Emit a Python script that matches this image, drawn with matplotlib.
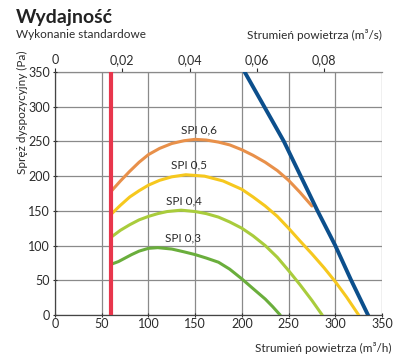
import matplotlib
matplotlib.use('Agg')
import matplotlib.pyplot as plt

plt.rcParams['font.family'] = ['Lato', 'DejaVu Sans']

# Dane (m3/h, Pa)
spi06_x = [60, 70, 80, 90, 100, 112, 125, 138, 150, 162, 175, 187, 200, 212, 225, 238, 250, 262, 275]
spi06_y = [178, 193, 207, 220, 231, 240, 247, 251, 253, 252, 249, 245, 238, 230, 220, 208, 194, 177, 157]

spi05_x = [60, 70, 80, 90, 100, 112, 125, 140, 160, 180, 200, 212, 225, 238, 250, 262, 275, 288, 300, 312, 325]
spi05_y = [145, 158, 170, 179, 187, 194, 199, 202, 200, 193, 181, 170, 157, 142, 125, 107, 88, 68, 48, 26, 0]

spi04_x = [60, 70, 80, 90, 100, 110, 120, 135, 150, 162, 175, 187, 200, 212, 225, 238, 250, 262, 275, 286]
spi04_y = [112, 122, 130, 137, 142, 146, 149, 151, 149, 146, 141, 134, 125, 114, 100, 83, 64, 44, 21, 0]

spi03_x = [60, 68, 75, 82, 90, 100, 110, 125, 138, 150, 162, 175, 187, 200, 212, 225, 233, 241]
spi03_y = [73, 77, 82, 87, 92, 96, 97, 95, 91, 87, 82, 76, 66, 52, 38, 23, 12, 0]

limit_x = [203, 232, 245, 263, 281, 300, 317, 335]
limit_y = [350, 281, 250, 200, 150, 100, 50, 0]

min_flow = 60

spi_labels = ['SPI 0,6', 'SPI 0,5', 'SPI 0,4', 'SPI 0,3']
label_x = [154, 143, 138, 137]
label_y = [266, 216, 165, 111]

x_ticks = [0, 50, 100, 150, 200, 250, 300, 350]
y_ticks = [0, 50, 100, 150, 200, 250, 300, 350]
top_ticks = [0, 0.02, 0.04, 0.06, 0.08]
top_labels = ['0', '0,02', '0,04', '0,06', '0,08']

txt = '#2b2b2b'
grid_c = '#8a8a8a'

fig = plt.figure(figsize=(4.15, 3.6), dpi=100)
ax = fig.add_axes([0.1325, 0.125, 0.788, 0.675])

ax.set_xlim(0, 350)
ax.set_ylim(0, 350)
ax.set_xticks(x_ticks)
ax.set_yticks(y_ticks)
ax.grid(True, color=grid_c, linewidth=0.9)
ax.set_axisbelow(True)

for s in ['top', 'right']:
    ax.spines[s].set_visible(False)
for s in ['left', 'bottom']:
    ax.spines[s].set_color('#444444')
    ax.spines[s].set_linewidth(0.9)

ax.tick_params(axis='both', labelsize=9, colors=txt, length=3, width=0.8, direction='inout')
ax.tick_params(axis='x', pad=1)
ax.tick_params(axis='y', pad=2)

# krzywe SPI
kw = dict(lw=2.2, solid_capstyle='round', solid_joinstyle='round', zorder=3)
ax.plot(spi06_x, spi06_y, color='#e8904a', **kw)
ax.plot(spi05_x, spi05_y, color='#f6c81e', **kw)
ax.plot(spi04_x, spi04_y, color='#a9cc3c', **kw)
ax.plot(spi03_x, spi03_y, color='#6aae3c', **kw)

# granica maksymalna i minimalny przepływ
ax.plot(limit_x, limit_y, color='#0c4f8c', lw=2.8, zorder=4)
ax.plot([min_flow, min_flow], [0, 350], color='#e8364c', lw=3.0, zorder=4)

for t, lx, ly in zip(spi_labels, label_x, label_y):
    ax.text(lx, ly, t, ha='center', va='center', fontsize=8.5, color=txt, zorder=5)

# górna oś m3/s
top = ax.secondary_xaxis('top', functions=(lambda v: v / 3600, lambda v: v * 3600))
top.set_xticks(top_ticks)
top.set_xticklabels(top_labels)
top.tick_params(labelsize=9, colors=txt, length=3, width=0.8, pad=1)
top.spines['top'].set_color(grid_c)
top.spines['top'].set_linewidth(0.9)

fig.text(16 / 415, 1 - 18 / 360, 'Wydajność', fontsize=14, fontweight='bold', color='#222222', va='center', ha='left')
fig.text(16 / 415, 1 - 34 / 360, 'Wykonanie standardowe', fontsize=8.5, color=txt, va='center', ha='left')
fig.text(382 / 415, 1 - 35 / 360, 'Strumień powietrza (m³/s)', fontsize=8.5, color=txt, va='center', ha='right')
fig.text(391 / 415, 1 - 348 / 360, 'Strumień powietrza (m³/h)', fontsize=8.5, color=txt, va='center', ha='right')
fig.text(22 / 415, 1 - 112 / 360, 'Spręż dyspozycyjny (Pa)', fontsize=8.5, color=txt, va='center', ha='center', rotation=90)

fig.savefig('out.png', dpi=100, facecolor='white')
